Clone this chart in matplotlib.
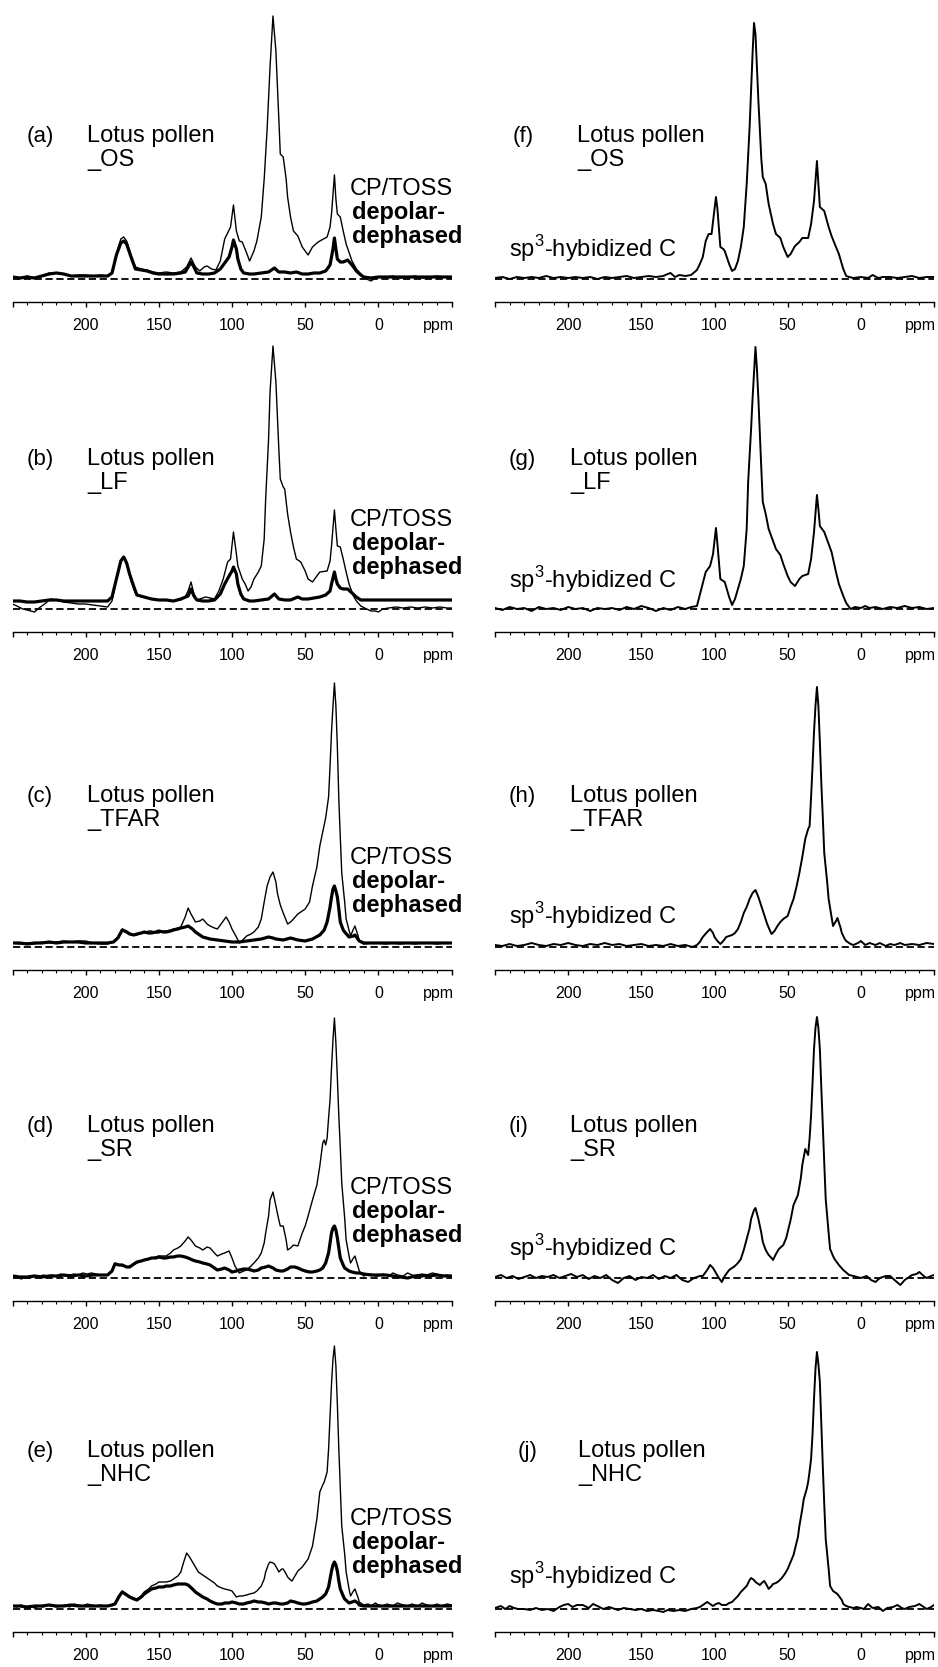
import numpy as np
import matplotlib.pyplot as plt

plt.rcParams['font.family'] = ['Liberation Sans', 'DejaVu Sans']
plt.rcParams['mathtext.fontset'] = 'custom'
plt.rcParams['mathtext.rm'] = 'Liberation Sans'

# (ppm, intensity), intensity in a.u. (baseline = 0)
# left column: thin = CP/TOSS, thick = depolar-dephased
a_cp = [(250,2),(245,1),(240,3),(235,1),(230,3),(225,6),(220,6),(215,5),(210,3),(205,4),(200,4),(195,3),(190,4),(185,3),(182,6),(179,25),(176,40),(174,42),(172,38),(169,24),(166,12),(162,10),(158,9),(154,7),(150,6),(145,7),(140,6),(135,7),(131,12),(128,21),(125,12),(122,8),(119,12),(117,13),(114,10),(111,9),(108,18),(105,40),(103,46),(101,52),(99,74),(97,48),(95,38),(93,37),(90,26),(88,18),(85,28),(83,38),(80,62),(78,100),(76,150),(74,212),(72,263),(70,228),(68,160),(67,125),(65,122),(63,100),(62,82),(60,62),(58,48),(55,43),(52,32),(48,24),(45,32),(42,36),(40,38),(35,42),(33,52),(32,65),(30,104),(29,80),(28,65),(26,62),(24,48),(22,35),(18,18),(15,10),(12,5),(8,0),(5,-2),(2,1),(0,2),(-5,2),(-10,3),(-15,1),(-20,2),(-25,3),(-30,1),(-35,2),(-40,3),(-45,2),(-50,2)]
a_dd = [(250,2),(245,1),(240,2),(235,1),(230,3),(225,5),(220,6),(215,5),(210,3),(205,3),(200,3),(195,3),(190,3),(185,3),(182,6),(179,24),(176,36),(174,38),(172,35),(169,22),(166,10),(162,9),(158,8),(154,6),(150,5),(145,5),(140,5),(135,6),(132,7),(130,12),(128,17),(126,12),(124,6),(120,5),(116,5),(112,6),(108,10),(105,16),(102,22),(100,32),(99,39),(97,30),(96,20),(94,10),(92,6),(88,5),(85,5),(80,6),(75,7),(71,11),(68,7),(64,7),(60,6),(56,7),(52,5),(48,5),(44,6),(40,6),(36,8),(33,14),(31,30),(30,41),(29,30),(28,20),(26,17),(24,17),(21,19),(18,14),(15,8),(12,4),(10,2),(5,1),(0,2),(-10,2),(-20,2),(-30,2),(-40,2),(-50,2)]

b_cp = [(250,5),(247,3),(243,0),(240,-1),(235,-3),(231,2),(228,5),(224,10),(220,9),(215,7),(210,6),(205,5),(200,5),(195,4),(190,3),(185,2),(182,8),(179,30),(176,48),(174,52),(172,45),(169,28),(166,16),(162,12),(158,11),(154,10),(150,9),(145,9),(140,8),(135,9),(132,12),(130,18),(128,27),(126,15),(124,9),(120,11),(118,12),(115,11),(112,10),(109,18),(106,30),(103,47),(101,50),(99,77),(97,55),(96,43),(93,30),(91,25),(89,18),(87,22),(85,30),(82,37),(80,43),(78,70),(77,110),(75,170),(74,217),(72,263),(70,227),(68,160),(67,130),(65,122),(64,120),(62,95),(60,77),(58,62),(56,50),(53,47),(50,38),(48,30),(45,27),(42,33),(40,37),(35,38),(33,48),(32,63),(30,99),(29,80),(28,63),(26,62),(24,50),(22,37),(20,25),(17,13),(15,8),(12,3),(8,0),(5,-2),(2,-2),(0,-3),(-3,0),(-7,1),(-12,2),(-17,1),(-22,2),(-27,1),(-32,2),(-37,1),(-42,2),(-47,1),(-50,1)]
b_dd = [(250,8),(245,8),(240,7),(235,7),(230,8),(225,9),(220,9),(215,8),(210,8),(205,8),(200,8),(195,8),(190,8),(185,8),(182,12),(179,30),(176,48),(174,52),(172,46),(170,35),(167,22),(165,14),(160,12),(155,10),(150,9),(145,9),(140,8),(135,10),(130,13),(128,20),(126,13),(124,9),(120,8),(116,8),(112,9),(108,15),(105,25),(102,33),(100,38),(99,42),(97,35),(96,25),(94,15),(92,10),(88,8),(85,8),(80,9),(75,10),(71,15),(68,10),(64,9),(60,9),(55,12),(52,10),(48,10),(44,11),(40,12),(36,14),(33,18),(32,25),(30,37),(29,30),(28,25),(26,21),(24,20),(21,20),(18,16),(15,12),(12,9),(10,9),(5,9),(0,9),(-10,9),(-20,9),(-30,9),(-40,9),(-50,9)]

c_cp = [(250,4),(245,3),(240,4),(235,3),(230,5),(225,4),(220,5),(215,6),(210,5),(205,6),(200,6),(195,4),(190,3),(185,3),(181,5),(178,10),(175,18),(172,16),(170,14),(167,12),(165,12),(162,14),(160,14),(157,16),(155,16),(152,14),(150,14),(147,16),(145,16),(142,17),(140,18),(137,19),(135,20),(132,30),(130,39),(128,33),(125,25),(122,26),(120,28),(117,23),(115,21),(112,19),(110,18),(107,24),(104,30),(102,25),(100,18),(97,10),(95,4),(92,8),(90,11),(87,13),(85,15),(82,20),(80,28),(78,45),(76,61),(74,70),(72,75),(70,65),(69,54),(67,42),(65,34),(62,23),(60,25),(58,28),(55,33),(52,36),(50,38),(47,45),(45,61),(42,80),(40,101),(38,115),(36,129),(34,150),(33,181),(32,215),(31,241),(30,264),(29,241),(28,200),(27,148),(26,110),(25,74),(23,45),(22,28),(19,11),(17,18),(16,21),(14,12),(13,6),(10,3),(5,4),(0,4),(-5,3),(-10,4),(-15,3),(-20,4),(-25,3),(-30,4),(-35,4),(-40,3),(-45,4),(-50,4)]
c_dd = [(250,4),(245,4),(240,3),(235,4),(230,4),(225,5),(220,4),(215,5),(210,5),(205,5),(200,4),(195,4),(190,4),(185,4),(181,5),(178,9),(175,17),(172,15),(170,13),(167,12),(165,13),(162,14),(160,15),(157,14),(155,14),(152,15),(150,16),(147,15),(145,15),(142,16),(140,17),(137,18),(135,19),(132,20),(130,21),(127,18),(125,15),(122,12),(120,10),(115,8),(110,7),(105,6),(100,5),(95,5),(90,6),(85,7),(80,8),(75,10),(72,9),(70,8),(65,7),(60,9),(55,7),(50,6),(45,8),(40,12),(37,17),(35,25),(33,40),(32,50),(31,58),(30,61),(29,56),(28,50),(27,38),(26,25),(24,17),(23,15),(20,10),(17,11),(16,12),(14,8),(13,6),(10,4),(5,4),(0,4),(-10,4),(-20,4),(-30,4),(-40,4),(-50,4)]

d_cp = [(250,2),(247,1),(244,-1),(241,1),(238,0),(235,2),(232,1),(229,3),(226,2),(223,3),(220,2),(217,4),(214,2),(211,3),(208,4),(205,3),(202,5),(199,4),(196,5),(193,4),(190,3),(187,3),(185,3),(182,8),(180,15),(177,13),(175,12),(172,11),(170,12),(167,14),(165,15),(162,17),(160,18),(157,19),(155,20),(152,21),(150,22),(147,22),(145,22),(142,25),(140,28),(137,30),(135,32),(132,37),(130,41),(128,38),(125,32),(122,30),(120,28),(117,31),(115,30),(112,25),(110,22),(107,24),(105,25),(102,27),(100,20),(98,12),(95,5),(92,7),(90,8),(87,12),(85,15),(82,20),(80,25),(78,35),(77,45),(75,62),(74,78),(72,86),(70,72),(68,58),(67,52),(65,52),(63,38),(62,28),(60,30),(58,33),(55,32),(52,45),(50,52),(48,62),(45,78),(42,93),(40,112),(38,135),(37,138),(36,133),(35,140),(34,160),(33,178),(32,210),(31,238),(30,260),(29,235),(28,200),(27,162),(26,130),(25,95),(23,60),(22,38),(20,22),(19,15),(17,20),(16,22),(14,12),(13,7),(10,2),(7,4),(5,4),(2,2),(0,2),(-3,4),(-7,2),(-10,5),(-13,3),(-17,2),(-20,5),(-23,3),(-27,1),(-30,1),(-33,3),(-37,5),(-40,4),(-43,2),(-47,3),(-50,2)]
d_dd = [(250,2),(245,1),(240,1),(235,2),(230,1),(225,2),(220,2),(215,3),(210,2),(205,3),(200,2),(195,3),(190,3),(185,3),(182,7),(180,14),(177,13),(175,13),(172,11),(170,11),(167,14),(165,16),(162,17),(160,18),(157,19),(155,20),(152,20),(150,21),(147,20),(145,20),(142,21),(140,21),(137,22),(135,22),(132,21),(130,20),(127,18),(125,17),(122,16),(120,15),(117,14),(115,13),(112,10),(110,8),(107,9),(105,10),(102,8),(100,6),(97,7),(95,8),(92,9),(90,9),(87,8),(85,7),(82,8),(80,10),(77,11),(75,12),(72,10),(70,8),(67,7),(65,7),(62,9),(60,11),(57,11),(55,10),(52,8),(50,7),(47,6),(45,6),(42,7),(40,8),(38,10),(36,15),(34,25),(33,35),(32,45),(31,50),(30,52),(29,48),(28,40),(27,30),(26,20),(24,13),(23,10),(20,7),(18,6),(15,5),(13,5),(10,4),(5,3),(0,3),(-5,3),(-10,2),(-15,1),(-20,0),(-25,2),(-30,3),(-35,2),(-40,3),(-45,2),(-50,2)]

e_cp = [(250,3),(247,2),(244,4),(241,2),(238,3),(235,1),(232,3),(229,2),(226,4),(223,3),(220,2),(217,3),(214,4),(211,2),(208,5),(205,4),(202,3),(199,5),(196,4),(193,3),(190,4),(187,3),(185,3),(182,4),(180,6),(177,14),(175,18),(172,15),(170,13),(167,11),(165,10),(162,13),(160,17),(157,20),(155,23),(152,25),(150,27),(147,27),(145,27),(142,28),(140,30),(137,33),(135,37),(133,47),(131,56),(129,52),(127,47),(125,42),(123,37),(120,34),(118,32),(116,30),(114,28),(112,26),(110,23),(107,21),(105,20),(102,19),(100,18),(98,14),(97,12),(95,13),(93,13),(90,14),(88,15),(85,16),(83,18),(80,23),(78,30),(77,37),(75,45),(74,47),(72,46),(71,45),(69,40),(68,37),(66,40),(65,40),(63,35),(62,32),(60,29),(59,28),(57,33),(55,38),(52,42),(50,46),(48,50),(45,63),(42,90),(40,117),(38,124),(37,127),(35,137),(34,160),(33,193),(32,225),(31,250),(30,263),(29,243),(28,205),(27,160),(26,120),(25,83),(23,55),(22,37),(20,20),(19,13),(17,18),(16,20),(14,12),(13,7),(10,4),(7,5),(5,3),(2,6),(0,4),(-3,3),(-6,5),(-10,3),(-13,6),(-17,4),(-20,3),(-23,5),(-27,3),(-30,6),(-33,4),(-37,3),(-40,5),(-43,3),(-47,5),(-50,4)]
e_dd = [(250,3),(245,3),(240,2),(235,3),(230,3),(225,4),(220,3),(215,3),(210,4),(205,3),(200,3),(195,3),(190,3),(185,3),(182,4),(180,5),(177,13),(175,17),(172,14),(170,12),(167,10),(165,9),(162,12),(160,15),(157,18),(155,20),(152,21),(150,22),(147,22),(145,23),(142,23),(140,24),(137,25),(135,25),(132,25),(130,24),(127,20),(125,17),(122,14),(120,12),(117,10),(115,8),(112,6),(110,5),(107,5),(105,6),(102,6),(100,7),(97,6),(95,5),(92,5),(90,6),(87,7),(85,8),(82,7),(80,7),(77,6),(75,5),(72,6),(70,6),(67,5),(65,5),(62,6),(60,8),(57,7),(55,6),(52,5),(50,5),(47,6),(45,7),(42,8),(40,10),(38,12),(36,15),(34,22),(33,30),(32,38),(31,44),(30,47),(29,44),(28,38),(27,28),(26,20),(24,13),(23,10),(20,6),(18,7),(16,8),(14,6),(13,4),(10,3),(5,3),(0,3),(-10,3),(-20,3),(-30,3),(-40,3),(-50,3)]

# right column: sp3-hybridized C (dipolar-dephased difference)
f_sp3 = [(250,1),(245,2),(240,0),(235,2),(230,1),(225,2),(220,1),(215,3),(210,1),(205,2),(200,1),(195,2),(190,1),(185,2),(180,0),(175,2),(170,1),(165,2),(160,3),(155,1),(150,2),(145,3),(140,2),(135,3),(132,5),(130,6),(127,2),(124,4),(120,3),(116,4),(112,9),(110,15),(108,22),(106,38),(104,45),(102,45),(100,70),(99,82),(98,70),(96,32),(94,30),(93,28),(90,15),(88,8),(86,10),(84,18),(82,32),(80,52),(78,95),(76,152),(74,225),(73,256),(72,245),(70,178),(68,120),(67,102),(65,95),(63,75),(60,55),(58,45),(55,41),(53,32),(50,22),(48,25),(45,33),(42,37),(40,41),(36,41),(34,55),(32,78),(30,118),(29,95),(28,72),(25,68),(22,52),(20,43),(17,32),(15,25),(12,10),(10,3),(8,2),(5,1),(0,2),(-5,1),(-8,4),(-12,1),(-15,2),(-20,2),(-25,1),(-30,2),(-35,3),(-40,1),(-45,2),(-50,2)]
g_sp3 = [(250,1),(245,-1),(240,2),(235,0),(230,1),(225,-2),(220,2),(215,0),(210,1),(205,-1),(200,2),(195,0),(190,1),(185,-2),(180,1),(175,0),(170,1),(165,-1),(160,2),(155,0),(150,3),(145,1),(140,-2),(135,1),(130,-1),(125,2),(120,0),(116,2),(112,3),(109,20),(106,37),(103,43),(101,55),(99,81),(98,65),(96,30),(93,27),(90,12),(88,4),(86,10),(84,20),(82,30),(80,43),(78,80),(77,127),(75,180),(74,210),(72,262),(71,240),(70,210),(68,140),(67,107),(65,95),(63,80),(60,68),(58,60),(55,54),(53,45),(50,33),(48,27),(45,23),(42,30),(40,33),(36,35),(34,50),(32,77),(30,114),(29,100),(28,83),(25,77),(22,65),(20,57),(17,37),(15,25),(12,13),(10,6),(7,0),(4,2),(0,1),(-3,3),(-6,1),(-10,2),(-15,0),(-20,2),(-25,1),(-30,3),(-35,1),(-40,2),(-45,0),(-50,1)]
h_sp3 = [(250,2),(245,1),(240,3),(235,1),(230,2),(225,4),(220,2),(215,1),(210,3),(205,2),(200,4),(195,2),(190,1),(185,3),(180,2),(175,4),(170,2),(165,3),(160,1),(155,2),(150,3),(145,1),(140,2),(135,1),(130,3),(125,1),(120,2),(115,0),(112,2),(110,5),(108,10),(105,15),(103,18),(101,14),(100,10),(98,6),(96,3),(94,6),(92,10),(90,11),(88,12),(86,14),(84,18),(82,25),(80,34),(78,40),(76,48),(74,54),(72,57),(70,50),(68,41),(66,32),(64,23),(62,16),(61,13),(59,16),(57,21),(55,25),(53,28),(50,31),(48,40),(46,48),(44,60),(42,74),(40,90),(38,108),(36,118),(35,121),(34,150),(33,181),(32,215),(31,241),(30,260),(29,241),(28,205),(27,164),(26,130),(25,94),(23,65),(22,48),(20,30),(19,21),(17,26),(16,29),(14,20),(13,14),(11,8),(10,6),(7,3),(5,2),(2,4),(0,6),(-3,2),(-6,4),(-10,2),(-13,4),(-17,1),(-20,3),(-23,2),(-27,4),(-30,2),(-35,3),(-40,2),(-45,4),(-50,3)]
i_sp3 = [(250,1),(246,3),(242,0),(238,2),(234,-1),(230,1),(226,3),(222,0),(218,2),(214,1),(210,3),(206,0),(202,2),(198,4),(194,1),(190,3),(186,-1),(182,2),(178,0),(174,3),(170,-2),(166,-5),(162,0),(158,2),(154,-2),(150,1),(146,0),(142,3),(138,-1),(134,2),(130,0),(126,3),(122,-2),(118,-4),(114,0),(110,2),(108,2),(105,8),(103,13),(101,10),(99,5),(97,0),(95,-4),(93,2),(90,8),(88,10),(86,12),(84,15),(82,19),(80,28),(78,39),(76,50),(75,59),(73,68),(72,70),(70,59),(68,45),(67,36),(65,28),(63,23),(61,20),(60,18),(58,24),(56,29),(53,33),(51,40),(50,46),(48,58),(46,73),(43,83),(41,100),(40,113),(38,129),(36,123),(35,140),(34,163),(33,195),(32,229),(31,250),(30,261),(29,250),(28,229),(27,190),(26,153),(25,115),(24,79),(22,45),(21,29),(19,22),(18,19),(15,13),(12,8),(8,3),(5,2),(0,0),(-4,2),(-7,-2),(-10,-4),(-13,0),(-17,2),(-20,2),(-23,-2),(-27,-7),(-30,-2),(-33,1),(-35,3),(-38,4),(-40,6),(-43,2),(-45,0),(-48,2),(-50,3)]
j_sp3 = [(250,1),(246,3),(243,0),(240,3),(237,1),(234,0),(230,0),(226,-1),(222,1),(218,-1),(214,0),(210,-2),(206,2),(203,4),(200,5),(197,2),(194,4),(190,4),(186,1),(183,5),(180,3),(176,0),(172,2),(170,1),(166,-1),(162,1),(158,0),(154,-1),(150,0),(146,-2),(142,-1),(138,-2),(135,-3),(132,-1),(128,-2),(124,-1),(120,-2),(116,0),(112,1),(110,2),(107,5),(105,7),(103,5),(101,3),(99,5),(97,6),(95,4),(92,4),(90,6),(88,7),(86,10),(84,13),(82,17),(80,20),(78,23),(76,29),(75,31),(73,29),(72,27),(70,25),(69,24),(67,27),(66,28),(64,23),(63,20),(61,23),(60,25),(58,26),(56,28),(54,31),(52,35),(50,40),(48,47),(46,54),(45,60),(43,72),(42,83),(40,100),(39,110),(37,120),(36,127),(35,138),(34,150),(33,175),(32,210),(31,240),(30,257),(29,245),(28,227),(27,185),(26,143),(25,105),(24,70),(22,40),(21,23),(19,18),(18,17),(16,15),(15,13),(13,9),(12,5),(10,3),(8,2),(5,1),(3,2),(0,1),(-2,0),(-5,5),(-8,1),(-12,2),(-15,-2),(-18,1),(-22,2),(-25,4),(-28,1),(-30,0),(-33,2),(-37,3),(-40,5),(-43,2),(-45,0),(-48,2),(-50,4)]

left_cp = [a_cp, b_cp, c_cp, d_cp, e_cp]
left_dd = [a_dd, b_dd, c_dd, d_dd, e_dd]
right_sp3 = [f_sp3, g_sp3, h_sp3, i_sp3, j_sp3]

left_letters = ['(a)', '(b)', '(c)', '(d)', '(e)']
right_letters = ['(f)', '(g)', '(h)', '(i)', '(j)']
samples = ['_OS', '_LF', '_TFAR', '_SR', '_NHC']

major_ticks = [250, 200, 150, 100, 50, 0, -50]
major_labels = ['', '200', '150', '100', '50', '0', '']

W, H = 938, 1667
fig = plt.figure(figsize=(W / 100, H / 100), dpi=100)

# layout in pixels (from top-left)
col_x = [12.5, 495]
ax_w = 439
ruler_y = [302, 632, 970, 1301, 1632]
ax_h = 297
gap = 23   # baseline sits this far above the ppm ruler

name_y = [142, 465, 802, 1132, 1457]
note_y = [195, 526, 864, 1194, 1525]
sp3_y = [257, 588, 924, 1256, 1584]
r_letter_x = [513, 509, 509, 509, 518]
r_name_x = [577, 570, 570, 570, 578]

big = 17


def ptxt(x, y, s, **kw):
    fig.text(x / W, 1 - y / H, s, va='baseline', ha='left', **kw)


def make_ax(col, row):
    ax = fig.add_axes([col_x[col] / W, 1 - ruler_y[row] / H, ax_w / W, ax_h / H])
    ax.patch.set_alpha(0)
    ax.set_xlim(250, -50)
    ax.set_ylim(-gap, ax_h - gap)
    for s in ['left', 'right', 'top']:
        ax.spines[s].set_visible(False)
    ax.spines['bottom'].set_linewidth(1.0)
    ax.set_yticks([])
    ax.set_xticks(major_ticks)
    ax.set_xticklabels(major_labels)
    ax.set_xticks(np.arange(-50, 251, 10), minor=True)
    ax.tick_params(axis='x', which='major', direction='out', length=3.6, width=1.0,
                   pad=8, labelsize=11.5)
    ax.tick_params(axis='x', which='minor', direction='out', length=1.8, width=0.8)
    ax.text(-41, -28 / ax_h, 'ppm', transform=ax.get_xaxis_transform(),
            ha='center', va='baseline', fontsize=11.5)
    ax.plot([250, -50], [0, 0], color='black', lw=1.3, ls=(0, (4, 2)))
    return ax


for r in range(5):
    # left: CP/TOSS + dipolar dephased
    ax = make_ax(0, r)
    ppm, y = zip(*left_cp[r])
    ax.plot(ppm, y, color='black', lw=1.0)
    ppm, y = zip(*left_dd[r])
    ax.plot(ppm, y, color='black', lw=2.3)

    ptxt(27, name_y[r], left_letters[r], fontsize=16)
    ptxt(87, name_y[r], 'Lotus pollen', fontsize=big)
    ptxt(87, name_y[r] + 24, samples[r], fontsize=big)
    ptxt(350, note_y[r], 'CP/TOSS', fontsize=big)
    ptxt(352, note_y[r] + 24, 'depolar-', fontsize=big, fontweight='bold')
    ptxt(352, note_y[r] + 48, 'dephased', fontsize=big, fontweight='bold')

    # right: sp3-hybridized C
    ax = make_ax(1, r)
    ppm, y = zip(*right_sp3[r])
    ax.plot(ppm, y, color='black', lw=1.4)

    ptxt(r_letter_x[r], name_y[r], right_letters[r], fontsize=16)
    ptxt(r_name_x[r], name_y[r], 'Lotus pollen', fontsize=big)
    ptxt(r_name_x[r], name_y[r] + 24, samples[r], fontsize=big)
    ptxt(509, sp3_y[r], 'sp$^{\\mathregular{3}}$-hybidized C', fontsize=big)

fig.savefig('out.png', dpi=100, facecolor='white')
